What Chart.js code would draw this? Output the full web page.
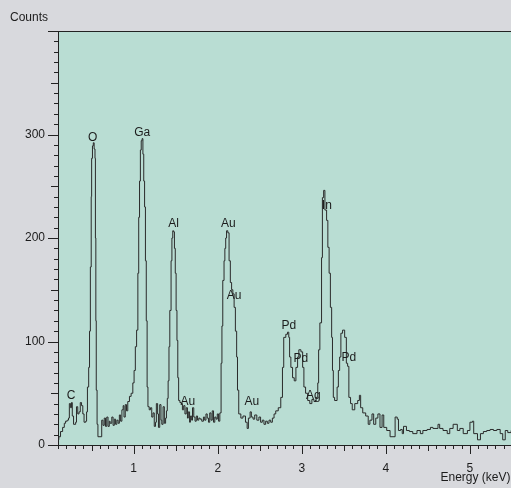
<!DOCTYPE html>
<html>
<head>
<meta charset="utf-8">
<script src="https://cdn.jsdelivr.net/npm/chart.js@4.4.1/dist/chart.umd.min.js"></script>
<style>
  html, body { margin: 0; padding: 0; overflow: hidden; background: #d8d9dd; }
  #wrap { width: 570px; height: 488px; }
</style>
</head>
<body>
<div id="wrap"><canvas id="spectrum" width="570" height="488"></canvas></div>
<script>
// EDS spectrum, values (keV / counts)
const energy = [
  0.10,0.11,0.13,0.155,0.175,0.19,0.21,0.225,0.235,0.25,0.26,0.27,0.285,0.31,0.32,0.335,0.35,0.365,0.38,0.395,0.41,0.43,0.44,0.45,0.465,0.475,0.485,0.495,0.50,0.51,0.52,0.53,0.54,0.545,0.55,0.555,0.565,0.575,
  0.62,0.635,0.65,0.665,0.68,0.695,0.71,0.72,0.74,0.755,0.77,0.785,0.80,0.815,0.83,0.845,0.86,0.875,0.885,0.90,0.915,0.93,0.95,0.97,0.99,1.005,1.02,1.035,1.05,1.06,1.07,1.08,1.09,1.10,1.11,1.12,1.13,1.14,1.15,1.16,1.17,
  1.185,1.20,1.215,1.23,1.245,1.26,1.27,1.285,1.295,1.31,1.325,1.335,1.35,1.365,1.38,1.39,1.40,1.41,1.42,1.43,1.445,1.455,1.465,1.475,1.485,1.495,1.505,1.515,1.525,1.535,
  1.55,1.565,1.58,1.595,1.61,1.625,1.64,1.65,1.665,1.675,1.69,1.70,1.715,1.73,1.745,1.76,1.775,1.79,1.81,1.83,1.845,1.86,1.875,1.89,1.905,1.92,1.935,1.95,1.965,1.98,1.995,2.01,
  2.025,2.04,2.05,2.06,2.075,2.085,2.095,2.105,2.12,2.135,2.15,2.165,2.18,2.195,2.21,2.225,2.235,
  2.25,2.275,2.30,2.33,2.35,2.365,2.385,2.40,2.42,2.44,2.465,2.49,2.51,2.53,2.55,2.57,2.59,2.61,2.63,2.65,2.67,2.69,
  2.72,2.75,2.77,2.785,2.81,2.83,2.845,2.855,2.87,2.89,2.91,2.93,2.95,2.965,2.99,3.01,3.025,3.045,3.07,3.095,3.12,3.145,3.17,3.19,3.20,3.215,3.235,3.245,3.26,3.275,3.295,3.31,3.325,3.34,3.355,3.365,3.375,3.39,3.42,3.435,3.45,3.465,3.485,3.51,3.53,3.545,3.56,3.58,3.60,3.63,3.665,3.685,3.70,3.725,3.76,3.79,3.81,3.835,3.855,3.88,3.905,3.93,3.955,3.975,4.01,4.05,
  4.11,4.135,4.15,4.175,4.195,4.21,4.245,4.28,4.32,4.37,4.41,4.44,4.49,4.53,4.56,4.62,4.64,4.68,4.73,4.76,4.80,4.85,4.88,4.92,4.97,5.00,5.03,5.045,5.09,5.125,5.16,5.20,5.24,5.28,5.32,5.36,5.39,5.42,5.45,5.49,5.55,5.62,5.70,5.80,5.90,6.00
];
const counts = [
  5,8,13,17,21,23,24,26,40,36,41,28,20,22,37,30,32,41,38,30,22,23,32,56,75,110,172,240,277,289,292,286,277,200,120,53,20,8,
  24,19,26,18,27,18,23,21,27,19,25,20,24,21,29,23,34,38,27,39,33,42,47,50,60,72,95,111,166,220,255,285,294,296,281,255,230,178,120,56,37,
  34,36,27,31,18,22,40,30,17,39,24,20,37,21,26,33,45,62,95,130,178,200,207,206,190,166,130,101,65,43,
  41,40,34,38,30,36,26,32,22,28,24,36,27,23,28,24,26,25,23,27,24,30,26,22,31,24,33,22,27,25,30,23,
  31,79,115,159,178,190,200,207,205,178,157,150,146,133,110,85,53,
  30,26,28,22,16,26,32,27,25,29,24,27,22,24,20,23,21,24,22,26,30,33,
  36,46,75,104,107,109,104,85,75,65,62,75,85,92,90,75,56,50,43,40,44,42,46,60,92,118,181,239,246,227,217,191,166,133,104,72,46,43,56,72,85,108,111,104,79,76,46,40,34,40,43,48,36,31,28,20,24,30,20,26,30,17,29,17,14,8,
  27,25,14,15,11,18,14,13,11,14,11,14,15,17,16,20,16,14,11,16,20,14,16,11,14,22,23,11,5,11,13,14,15,14,15,11,5,14,12,14,10,13,11,12,10,11
];

// peak labels (element name and where it sits, in keV / counts)
const peakNames  = ['C', 'O', 'Ga', 'Al', 'Au', 'Au', 'Au', 'Au', 'Pd', 'Pd', 'Ag', 'In', 'Pd'];
const peakEnergy = [0.256, 0.512, 1.101, 1.476, 2.125, 2.196, 1.643, 2.405, 2.845, 2.988, 3.137, 3.298, 3.56];
const peakCounts = [48, 297, 302, 214, 214, 144, 42, 42, 115, 83, 48, 231, 84];

const yLabels = [0, 100, 200, 300];
const xLabels = [1, 2, 3, 4, 5];

const FONT = '"Liberation Sans", Arial, sans-serif';
const INK = '#1c1c1c';

// teal plot area, top frame line, varying-length tick marks, peak names, axis titles
const spectrumDecor = {
    id: 'spectrumDecor',
    beforeDraw(chart) {
        const { ctx, chartArea: a } = chart;
        ctx.save();
        ctx.fillStyle = '#b9ddd3';
        ctx.fillRect(a.left, a.top, a.right - a.left, a.bottom - a.top);
        ctx.restore();
    },
    afterDraw(chart) {
        const { ctx, chartArea: a } = chart;
        const xs = chart.scales.x, ys = chart.scales.y;
        ctx.save();
        ctx.strokeStyle = '#222';
        ctx.lineWidth = 1;
        ctx.beginPath();
        ctx.moveTo(a.left, a.top + 0.5);
        ctx.lineTo(a.right, a.top + 0.5);

        ys.ticks.forEach(t => {
            const v = Math.round(t.value);
            const len = v % 100 === 0 ? 10 : (v % 50 === 0 ? 7 : 4);
            const py = Math.round(ys.getPixelForValue(t.value)) + 0.5;
            ctx.moveTo(a.left - len, py);
            ctx.lineTo(a.left, py);
        });
        xs.ticks.forEach(t => {
            const tenths = Math.round(t.value * 10);
            const len = tenths % 10 === 0 ? 9 : (tenths % 5 === 0 ? 6 : 4);
            const px = Math.round(xs.getPixelForValue(t.value)) + 0.5;
            ctx.moveTo(px, a.bottom);
            ctx.lineTo(px, a.bottom + len);
        });
        ctx.stroke();

        ctx.fillStyle = INK;
        ctx.font = '12px ' + FONT;
        ctx.textAlign = 'center';
        ctx.textBaseline = 'middle';
        peakNames.forEach((name, i) => {
            ctx.fillText(name, xs.getPixelForValue(peakEnergy[i]), ys.getPixelForValue(peakCounts[i]));
        });

        ctx.textAlign = 'left';
        ctx.fillText('Counts', a.left - 48, a.top - 13);
        ctx.fillText('Energy (keV)', xs.getPixelForValue(4.65), a.bottom + 33);
        ctx.restore();
    }
};

const ctx = document.getElementById('spectrum').getContext('2d');
new Chart(ctx, {
    type: 'line',
    data: {
        datasets: [{
            label: 'Counts',
            data: energy.map((e, i) => ({ x: e, y: counts[i] })),
            borderColor: '#2a2a2a',
            borderWidth: 1,
            pointRadius: 0,
            stepped: 'before',
            fill: false
        }]
    },
    options: {
        responsive: false,
        animation: false,
        layout: { padding: { top: 31, right: 16, left: 0, bottom: 0 } },
        plugins: {
            legend: { display: false },
            tooltip: { enabled: false }
        },
        scales: {
            x: {
                type: 'linear',
                min: 0.1,
                max: 6,
                afterFit(scale) { scale.height = 43; },
                border: { display: true, color: '#222', width: 1 },
                grid: { display: true, drawOnChartArea: false, drawTicks: false },
                ticks: {
                    stepSize: 0.1,
                    autoSkip: false,
                    maxRotation: 0,
                    padding: 16,
                    color: INK,
                    font: { family: FONT, size: 12 },
                    callback: (v) => {
                        const r = Math.round(v);
                        return Math.abs(v - r) < 1e-6 && xLabels.includes(r) ? String(r) : '';
                    }
                }
            },
            y: {
                min: 0,
                max: 400,
                afterFit(scale) { scale.width = 58; },
                border: { display: true, color: '#222', width: 1 },
                grid: { display: true, drawOnChartArea: false, drawTicks: false },
                ticks: {
                    stepSize: 10,
                    autoSkip: false,
                    padding: 13,
                    color: INK,
                    font: { family: FONT, size: 12 },
                    callback: (v) => yLabels.includes(Math.round(v)) ? String(Math.round(v)) : ''
                }
            }
        }
    },
    plugins: [spectrumDecor]
});
</script>
</body>
</html>
